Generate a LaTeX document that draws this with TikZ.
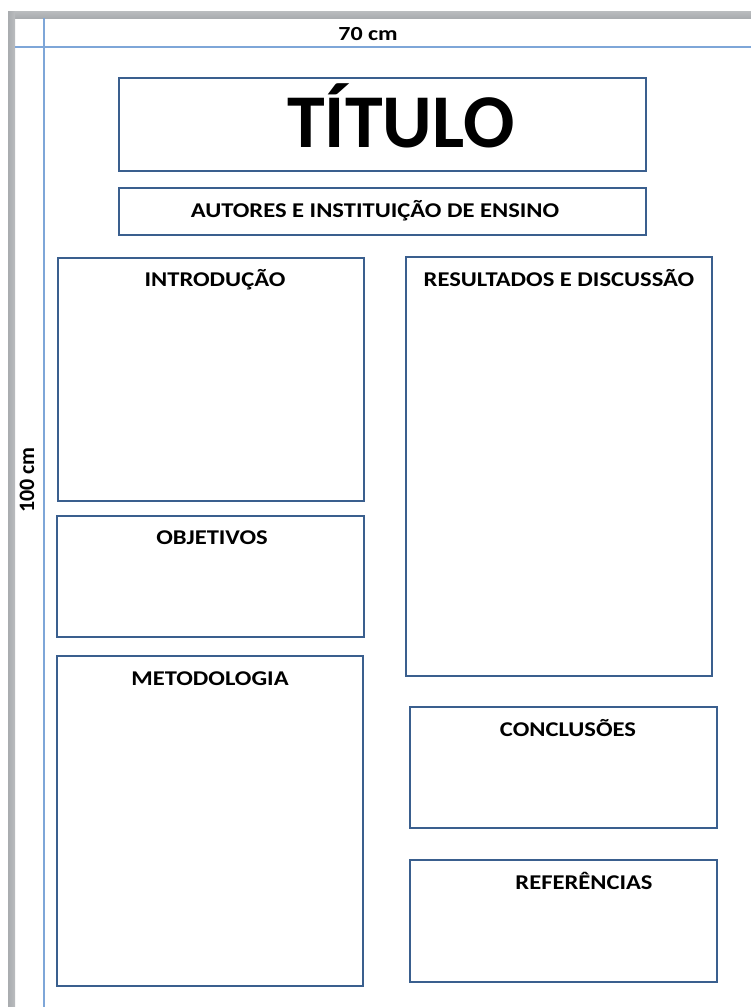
\documentclass[tikz,border=0pt]{standalone}
\usepackage{fontspec}
\setmainfont{Carlito}
\definecolor{boxblue}{HTML}{3A5F8E}
\definecolor{guide}{HTML}{7EA6D8}
\definecolor{frame}{HTML}{A9ACAF}
\tikzset{
  sec/.style={draw=boxblue, line width=2.6pt, fill=white},
  lbl/.style={font=\bfseries\fontsize{21}{24}\selectfont, inner sep=0pt, anchor=base, xscale=1.17},
  guideline/.style={draw=guide, line width=1.6pt},
}
\begin{document}
\begin{tikzpicture}[x=1pt,y=-1pt]
\useasboundingbox (0,0) rectangle (751,1007);
\fill[white] (0,0) rectangle (751,1007);
% window frame
\shade[top color=frame!80, bottom color=frame] (8,11) rectangle (751,18);
\shade[left color=frame, right color=frame!80] (8,11) rectangle (15,1007);
% guides
\coordinate (gh1) at (15,47); \coordinate (gh2) at (751,47);
\coordinate (gv1) at (44,18); \coordinate (gv2) at (44,1007);
\draw[guideline] (gh1) -- (gh2);
\draw[guideline] (gv1) -- (gv2);
\node[font=\bfseries\fontsize{20}{22}\selectfont, inner sep=0pt, anchor=base, xscale=1.2] (w) at (368,40) {70 cm};
\node[font=\bfseries\fontsize{22}{24}\selectfont, inner sep=0pt, rotate=90] (h) at (27,480) {100 cm};
% boxes
\draw[sec] (119,78) rectangle (646,171);
\draw[sec] (119,188) rectangle (646,235);
\draw[sec] (58,258) rectangle (364,501);
\draw[sec] (57,516) rectangle (364,637);
\draw[sec] (57,656) rectangle (363,986);
\draw[sec] (406,257) rectangle (712,676);
\draw[sec] (410,707) rectangle (717,828);
\draw[sec] (410,860) rectangle (717,982);
% texts
\node[font=\bfseries\fontsize{76}{80}\selectfont, inner sep=0pt, anchor=base] (titulo) at (401,147) {TÍTULO};
\node[lbl] (aut) at (375,217) {AUTORES E INSTITUIÇÃO DE ENSINO};
\node[lbl] (intro) at (215,286) {INTRODUÇÃO};
\node[lbl] (obj) at (212,544) {OBJETIVOS};
\node[lbl] (met) at (210,685) {METODOLOGIA};
\node[lbl] (res) at (559,286) {RESULTADOS E DISCUSSÃO};
\node[lbl] (conc) at (568,736) {CONCLUSÕES};
\node[lbl] (ref) at (584,889) {REFERÊNCIAS};
\end{tikzpicture}
\end{document}
